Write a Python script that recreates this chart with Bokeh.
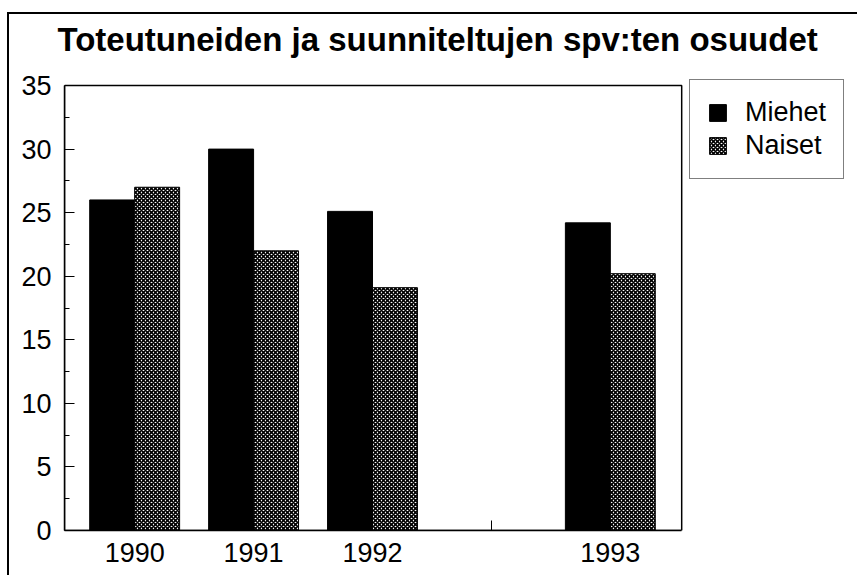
from bokeh.plotting import figure
from bokeh.models import (Legend, LegendItem, ColumnDataSource, FixedTicker,
                          Title, Range1d, BoxAnnotation)
from bokeh.transform import dodge
from bokeh.embed import file_html
from bokeh.resources import INLINE

# ---- data ----
title_text = "Toteutuneiden ja suunniteltujen spv:ten osuudet"
years = ["1990", "1991", "1992", "1993"]
slots = ["1990", "1991", "1992", "", "1993"]   # blank slot between 1992 and 1993
miehet = [26.0, 30.0, 25.1, 24.2]
naiset = [27.0, 22.0, 19.1, 20.2]
series_names = ["Miehet", "Naiset"]
y_ticks = [0, 5, 10, 15, 20, 25, 30, 35]

FONT = "Liberation Sans"

x_pos = [slots.index(y) for y in years]
src = ColumnDataSource(dict(x=x_pos, year=years, miehet=miehet, naiset=naiset))

# plot box (axes box of the original) in data units
X0, X1 = -0.59, 4.60
Y0, Y1 = 0, 35

# the drawing frame is wider/taller than the axes box so the legend fits in it
p = figure(x_range=Range1d(X0, 6.07), y_range=Range1d(Y0, 35.71),
           width=850, height=563,
           output_backend="svg", toolbar_location=None,
           min_border_left=55, min_border_right=3, min_border_top=62,
           min_border_bottom=47)
# outer frame of the scanned chart: only its top and left edges are in view
p.styles = {"margin-left": "7px", "margin-top": "12px",
            "border-left": "2px solid #000", "border-top": "2px solid #000"}

bw = 0.378
r1 = p.vbar(x=dodge("x", -bw / 2), top="miehet", width=bw,
            fill_color="black", line_color="black", line_width=1, source=src)
r2 = p.vbar(x=dodge("x", bw / 2), top="naiset", width=bw,
            fill_color="white", line_color="black", line_width=1,
            hatch_pattern="x", hatch_color="black", hatch_scale=4, hatch_weight=1.6,
            source=src)

# axes box
box = BoxAnnotation(left=X0, right=X1, bottom=Y0, top=Y1, fill_alpha=0,
                    line_color="black", line_alpha=1, line_width=1.5,
                    level="overlay")
p.add_layout(box)

# title (a thin spacer title keeps the main title away from the frame)
p.title = None
spacer = Title(text=" ", text_font_size="1px", standoff=15)
p.add_layout(spacer, "above")
t = Title(text=title_text, align="left", offset=-7, standoff=2,
          text_font=FONT, text_font_size="33px", text_font_style="bold",
          text_color="black")
p.add_layout(t, "above")

# grid / outline
p.xgrid.grid_line_color = None
p.ygrid.grid_line_color = None
p.outline_line_color = None
p.background_fill_color = "white"
p.border_fill_color = "white"

# y axis
p.yaxis.ticker = FixedTicker(ticks=y_ticks,
                             minor_ticks=[v + 2.5 for v in y_ticks[:-1]])
p.yaxis.bounds = (Y0, Y1)
p.yaxis.major_tick_in = 10
p.yaxis.major_tick_out = 0
p.yaxis.minor_tick_in = 5
p.yaxis.minor_tick_out = 0
p.yaxis.major_label_standoff = 13

# x axis
p.xaxis.ticker = FixedTicker(ticks=list(range(len(slots))), minor_ticks=[])
p.xaxis.major_label_overrides = {i: s for i, s in enumerate(slots)}
p.xaxis.bounds = (X0, X1)
p.xaxis.major_tick_in = 10
p.xaxis.major_tick_out = 0
p.xaxis.minor_tick_in = 0
p.xaxis.minor_tick_out = 0
p.xaxis.major_label_standoff = 12

for ax in (p.xaxis, p.yaxis):
    ax.axis_line_color = "black"
    ax.axis_line_width = 1.5
    ax.major_tick_line_color = "black"
    ax.minor_tick_line_color = "black"
    ax.major_label_text_font = FONT
    ax.major_label_text_font_size = "27px"
    ax.major_label_text_color = "black"

# legend (to the right of the axes box)
legend = Legend(items=[LegendItem(label=series_names[0], renderers=[r1]),
                       LegendItem(label=series_names[1], renderers=[r2])],
                location=(625, 351), orientation="vertical",
                border_line_color="black", border_line_width=1.5,
                background_fill_color="white", background_fill_alpha=1,
                glyph_width=21, glyph_height=21, label_standoff=17,
                padding=17, spacing=2, margin=0,
                label_text_font=FONT, label_text_font_size="27px",
                label_text_color="black")
p.add_layout(legend, "center")

open("out.html", "w").write(file_html(p, INLINE))
